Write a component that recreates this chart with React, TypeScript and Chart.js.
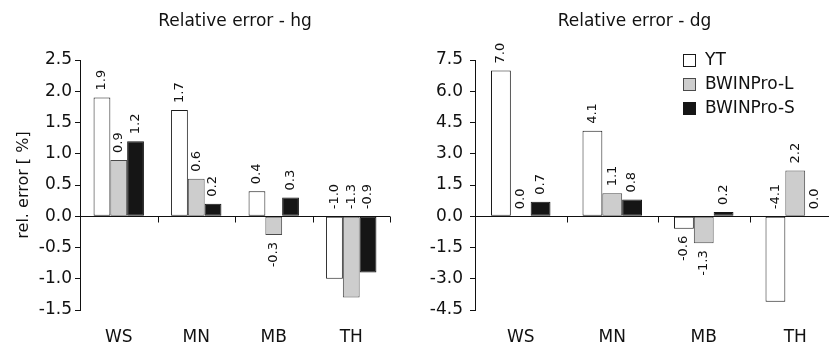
import React, { useEffect, useRef } from "react";
import { Chart, registerables } from "chart.js";

Chart.register(...registerables);

// ---------- data ----------
const categories = ["WS", "MN", "MB", "TH"];
const seriesNames = ["YT", "BWINPro-L", "BWINPro-S"];

const hgYT = [1.9, 1.7, 0.4, -1.0];
const hgL = [0.9, 0.6, -0.3, -1.3];
const hgS = [1.2, 0.2, 0.3, -0.9];

const dgYT = [7.0, 4.1, -0.6, -4.1];
const dgL = [0.0, 1.1, -1.3, 2.2];
const dgS = [0.7, 0.8, 0.2, 0.0];

const hgTickValues = [-1.5, -1.0, -0.5, 0.0, 0.5, 1.0, 1.5, 2.0, 2.5];
const dgTickValues = [-4.5, -3.0, -1.5, 0.0, 1.5, 3.0, 4.5, 6.0, 7.5];

const hgTitle = "Relative error - hg";
const dgTitle = "Relative error - dg";
const yAxisTitle = "rel. error [ %]";

// ---------- styles ----------
const FONT = '"DejaVu Sans", sans-serif';
const INK = "#111111";
const fills = ["#ffffff", "#cdcdcd", "#151515"];
const borders = ["#1a1a1a", "#4a4a4a", "#151515"];

const fmt = (v: number) => (Math.abs(v) < 1e-9 ? 0 : v).toFixed(1);

const zeroAxisPlugin = {
  id: "zeroAxis",
  afterDatasetsDraw(chart: any) {
    const { ctx, chartArea, scales } = chart;
    const xs = scales.x;
    const ys = scales.y;
    const y0 = Math.round(ys.getPixelForValue(0)) + 0.5;
    ctx.save();
    ctx.strokeStyle = INK;
    ctx.lineWidth = 1;
    ctx.beginPath();
    ctx.moveTo(chartArea.left, y0);
    ctx.lineTo(chartArea.right, y0);
    const n = chart.data.labels.length;
    for (let i = 0; i < n; i++) {
      const xb = Math.round(xs.getPixelForValue(i + 0.5)) + 0.5;
      ctx.moveTo(xb, y0);
      ctx.lineTo(xb, y0 + 6);
    }
    ctx.stroke();
    ctx.restore();
  },
};

const valueLabelPlugin = {
  id: "valueLabels",
  afterDatasetsDraw(chart: any) {
    const { ctx, chartArea, scales } = chart;
    const y0 = scales.y.getPixelForValue(0);
    const gap = 7;
    ctx.save();
    ctx.font = `13px ${FONT}`;
    ctx.fillStyle = INK;
    ctx.textBaseline = "middle";
    const n = chart.data.labels.length;
    const lift: boolean[] = new Array(n).fill(false);
    chart.data.datasets.forEach((ds: any, di: number) => {
      const meta = chart.getDatasetMeta(di);
      meta.data.forEach((bar: any, i: number) => {
        const v = ds.data[i];
        if (v < 0) {
          const w = ctx.measureText(fmt(v)).width;
          if (bar.y + gap + w > chartArea.bottom) lift[i] = true;
        }
      });
    });
    chart.data.datasets.forEach((ds: any, di: number) => {
      const meta = chart.getDatasetMeta(di);
      meta.data.forEach((bar: any, i: number) => {
        const v = ds.data[i];
        const txt = fmt(v);
        ctx.save();
        if (v >= 0 || Math.abs(v) < 1e-9) {
          ctx.translate(bar.x, bar.y - gap);
          ctx.rotate(-Math.PI / 2);
          ctx.textAlign = "left";
        } else if (lift[i]) {
          ctx.translate(bar.x, y0 - gap);
          ctx.rotate(-Math.PI / 2);
          ctx.textAlign = "left";
        } else {
          ctx.translate(bar.x, bar.y + gap);
          ctx.rotate(-Math.PI / 2);
          ctx.textAlign = "right";
        }
        ctx.fillText(txt, 0, 0);
        ctx.restore();
      });
    });
    ctx.restore();
  },
};

const boxLegendPlugin = {
  id: "boxLegend",
  afterDraw(chart: any, _args: any, opts: any) {
    if (!opts || !opts.show) return;
    const { ctx, chartArea } = chart;
    const x = chartArea.left + opts.dx;
    ctx.save();
    ctx.font = `17px ${FONT}`;
    ctx.textBaseline = "middle";
    ctx.textAlign = "left";
    chart.data.datasets.forEach((ds: any, i: number) => {
      const cy = chartArea.top + opts.dy + i * opts.rowH;
      ctx.fillStyle = ds.backgroundColor;
      ctx.fillRect(x + 0.5, Math.round(cy - 6) + 0.5, 12, 12);
      ctx.strokeStyle = ds.borderColor;
      ctx.lineWidth = 1;
      ctx.strokeRect(x + 0.5, Math.round(cy - 6) + 0.5, 12, 12);
      ctx.fillStyle = INK;
      ctx.fillText(ds.label, x + 22, cy + 1);
    });
    ctx.restore();
  },
};

function makeConfig(
  title: string,
  series: number[][],
  tickValues: number[],
  isRight: boolean
): any {
  const step = tickValues[1] - tickValues[0];
  return {
    type: "bar",
    data: {
      labels: categories,
      datasets: series.map((d, i) => ({
        label: seriesNames[i],
        data: d,
        backgroundColor: fills[i],
        borderColor: borders[i],
        borderWidth: 1,
        borderSkipped: false,
        categoryPercentage: 0.65,
        barPercentage: 1.0,
      })),
    },
    options: {
      responsive: false,
      animation: false,
      layout: {
        padding: isRight
          ? { left: 8, right: 0, top: 0, bottom: 0 }
          : { left: 0, right: 30, top: 0, bottom: 0 },
      },
      plugins: {
        legend: { display: false },
        tooltip: { enabled: false },
        title: {
          display: true,
          text: title,
          fullSize: isRight,
          color: INK,
          font: { family: FONT, size: 17, weight: "normal" },
          padding: { top: 11, bottom: 28.6 },
        },
        boxLegend: isRight
          ? { show: true, dx: 208, dy: 0, rowH: 24 }
          : { show: false },
      },
      scales: {
        x: {
          grid: { display: false, drawTicks: false },
          border: { display: false },
          ticks: {
            color: INK,
            font: { family: FONT, size: 17 },
            padding: 17,
          },
          afterFit: (s: any) => {
            s.height = 39;
          },
        },
        y: {
          min: tickValues[0],
          max: tickValues[tickValues.length - 1],
          ticks: {
            stepSize: step,
            color: INK,
            font: { family: FONT, size: 17 },
            padding: isRight ? 7 : 3,
            callback: (v: any) => Number(v).toFixed(1),
          },
          grid: {
            drawOnChartArea: false,
            drawTicks: true,
            tickLength: 5,
            color: INK,
          },
          border: { display: true, color: INK, width: 1 },
          title: {
            display: !isRight,
            text: yAxisTitle,
            color: INK,
            font: { family: FONT, size: 16 },
            padding: { top: 14, bottom: 0 },
          },
          afterFit: (s: any) => {
            s.width = isRight ? 47 : 80;
          },
        },
      },
    },
    plugins: [zeroAxisPlugin, valueLabelPlugin, boxLegendPlugin],
  };
}

export default function App() {
  const leftRef = useRef<HTMLCanvasElement | null>(null);
  const rightRef = useRef<HTMLCanvasElement | null>(null);

  useEffect(() => {
    const left = new Chart(
      leftRef.current as HTMLCanvasElement,
      makeConfig(hgTitle, [hgYT, hgL, hgS], hgTickValues, false)
    );
    const right = new Chart(
      rightRef.current as HTMLCanvasElement,
      makeConfig(dgTitle, [dgYT, dgL, dgS], dgTickValues, true)
    );
    return () => {
      left.destroy();
      right.destroy();
    };
  }, []);

  return (
    <div
      style={{
        position: "fixed",
        left: 0,
        top: 0,
        width: 829,
        height: 349,
        overflow: "hidden",
        background: "#ffffff",
      }}
    >
      <canvas
        ref={leftRef}
        width={420}
        height={349}
        style={{ position: "absolute", left: 0, top: 0 }}
      />
      <canvas
        ref={rightRef}
        width={421}
        height={349}
        style={{ position: "absolute", left: 420, top: 0 }}
      />
    </div>
  );
}
